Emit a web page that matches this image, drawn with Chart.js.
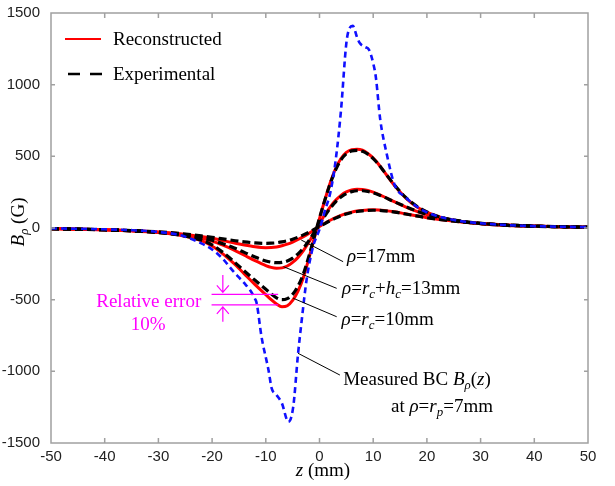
<!DOCTYPE html>
<html>
<head>
<meta charset="utf-8">
<script src="https://cdn.jsdelivr.net/npm/chart.js@4.4.1/dist/chart.umd.min.js"></script>
<style>
  body { margin: 0; background: #fff; }
  #wrap { width: 615px; height: 486px; }
</style>
</head>
<body>
<div id="wrap"><canvas id="c" width="615" height="486"></canvas></div>
<script>
// z positions (mm) shared by reconstructed / experimental curves
const zGrid = [-50, -45, -40, -35, -30, -26, -22, -20, -18, -16, -14, -12, -10, -9, -8, -7, -6, -5, -4, -3, -2, -1,
               0, 1, 2, 3, 4, 5, 6, 7, 8, 9, 10, 11, 12, 14, 16, 18, 20, 22, 26, 30, 35, 40, 45, 50];

// rho = rc = 10mm
const rec10 = [-5, -8, -13, -20, -32, -50, -88, -125, -180, -245, -320, -395, -465, -500, -530, -549, -542, -505, -440, -345, -215, -75,
               65, 195, 315, 415, 485, 528, 547, 550, 543, 520, 488, 445, 395, 295, 212, 150, 110, 80, 47, 30, 18, 12, 8, 5];
const exp10 = [-5, -8, -13, -20, -32, -50, -85, -118, -170, -232, -300, -365, -428, -460, -487, -500, -493, -463, -405, -320, -200, -65,
               70, 195, 310, 405, 475, 518, 538, 542, 535, 515, 484, 443, 395, 298, 215, 155, 112, 82, 48, 30, 18, 12, 8, 5];
// rho = rc + hc = 13mm
const rec13 = [-5, -8, -12, -19, -30, -45, -72, -92, -120, -152, -190, -228, -262, -275, -281, -278, -265, -240, -205, -158, -100, -35,
               30, 92, 148, 193, 228, 252, 265, 270, 268, 262, 250, 235, 218, 182, 148, 118, 93, 74, 48, 32, 20, 13, 9, 6];
const exp13 = [-5, -8, -12, -19, -30, -44, -68, -86, -110, -138, -170, -203, -230, -238, -242, -240, -230, -210, -180, -140, -90, -32,
               28, 85, 138, 182, 216, 240, 254, 260, 260, 255, 245, 232, 216, 182, 150, 120, 96, 76, 50, 33, 20, 13, 9, 6];
// rho = 17mm
const rec17 = [-5, -8, -12, -18, -28, -40, -60, -72, -88, -104, -119, -131, -137, -136, -132, -124, -113, -98, -80, -60, -38, -14,
               10, 33, 54, 72, 88, 101, 111, 118, 123, 126, 127, 126, 123, 113, 99, 85, 72, 61, 44, 32, 21, 14, 9, 6];
const exp17 = [-5, -8, -12, -18, -27, -38, -55, -65, -76, -87, -97, -104, -107, -106, -103, -97, -89, -78, -64, -48, -30, -10,
               10, 31, 51, 69, 85, 98, 108, 115, 120, 123, 124, 123, 120, 111, 98, 85, 72, 61, 44, 32, 21, 14, 9, 6];

// measured boundary condition at rho = rp = 7mm
const zMeas = [-50, -45, -40, -35, -30, -26, -22, -20, -18, -17, -16, -15, -14, -13, -12, -11.7, -10.8, -9.5, -8.9, -8, -7, -5.8,
               -4.9, -4, -3.3, -2.4, -1.2, 0, 1, 2, 3, 4, 5, 5.6, 6.2, 7, 7.5, 8.5, 9.2, 10, 10.5, 11.3, 12.5, 14, 16, 18, 20, 22, 26, 30, 35, 40, 45, 50];
const bMeas = [-3, -5, -9, -15, -28, -50, -107, -150, -215, -260, -305, -345, -385, -430, -495, -525, -758, -991, -1119, -1165, -1223, -1352,
               -1250, -880, -640, -360, -130, -10, 120, 245, 470, 820, 1290, 1395, 1410, 1330, 1290, 1262, 1245, 1150, 1050, 760, 520, 300, 215, 152, 110, 82, 50, 33, 20, 13, 9, 6];

const xTicks = [-50, 50, 10];      // min, max, step
const yTicks = [-1500, 1500, 500];

const pts = (xs, ys) => xs.map((x, i) => ({x: x, y: ys[i]}));
const SERIF = '"Liberation Serif", "Times New Roman", serif';
const SANS = '"Liberation Sans", Arial, sans-serif';

// draw text made of pieces: {t, i (italic), s (subscript)}
function rich(ctx, segs, x, y, size, align) {
    let w = 0;
    const parts = segs.map(s => {
        const fs = s.s ? size * 0.68 : size;
        const font = (s.i ? 'italic ' : '') + fs + 'px ' + SERIF;
        ctx.font = font;
        const mw = ctx.measureText(s.t).width;
        w += mw;
        return {s: s, font: font, mw: mw};
    });
    let cx = align === 'right' ? x - w : (align === 'center' ? x - w / 2 : x);
    ctx.textAlign = 'left';
    ctx.textBaseline = 'middle';
    parts.forEach(p => {
        ctx.font = p.font;
        ctx.fillText(p.s.t, cx, y + (p.s.s ? size * 0.3 : 0));
        cx += p.mw;
    });
}
const R = t => ({t: t}), I = t => ({t: t, i: true}), S = t => ({t: t, i: true, s: true});

// annotations in data coordinates
const leaders = [
    {from: [-3.4, -84], to: [4.4, -235], text: [I('ρ'), R('=17mm')], at: [5.1, -202]},
    {from: [-6.7, -270], to: [3.2, -421], text: [I('ρ'), R('='), I('r'), S('c'), R('+'), I('h'), S('c'), R('=13mm')], at: [4.2, -426]},
    {from: [-4.9, -490], to: [3.2, -619], text: [I('ρ'), R('='), I('r'), S('c'), R('=10mm')], at: [4.1, -642]},
    {from: [-4.0, -874], to: [3.8, -1026], text: [R('Measured BC '), I('B'), S('ρ'), R('('), I('z'), R(')')], at: [4.4, -1060]}
];

const overlay = {
    id: 'overlay',
    afterDatasetsDraw(chart) {
        const ctx = chart.ctx, xs = chart.scales.x, ys = chart.scales.y, a = chart.chartArea;
        const px = v => xs.getPixelForValue(v), py = v => ys.getPixelForValue(v);
        ctx.save();
        // frame and inward ticks
        ctx.strokeStyle = '#a0a0a0';
        ctx.lineWidth = 1.5;
        ctx.strokeRect(a.left, a.top, a.right - a.left, a.bottom - a.top);
        ctx.beginPath();
        for (let v = xTicks[0] + xTicks[2]; v < xTicks[1]; v += xTicks[2]) {
            ctx.moveTo(px(v), a.top); ctx.lineTo(px(v), a.top + 5);
            ctx.moveTo(px(v), a.bottom); ctx.lineTo(px(v), a.bottom - 5);
        }
        for (let v = yTicks[0] + yTicks[2]; v < yTicks[1]; v += yTicks[2]) {
            ctx.moveTo(a.left, py(v)); ctx.lineTo(a.left + 4, py(v));
            ctx.moveTo(a.right, py(v)); ctx.lineTo(a.right - 4, py(v));
        }
        ctx.stroke();

        // legend
        ctx.lineWidth = 2;
        ctx.strokeStyle = '#ff0000';
        ctx.beginPath(); ctx.moveTo(65, 39); ctx.lineTo(101, 39); ctx.stroke();
        ctx.strokeStyle = '#000';
        ctx.lineWidth = 2.5;
        ctx.setLineDash([12, 10]);
        ctx.beginPath(); ctx.moveTo(68, 74); ctx.lineTo(102, 74); ctx.stroke();
        ctx.setLineDash([]);
        ctx.fillStyle = '#000';
        rich(ctx, [R('Reconstructed')], 113, 40, 19, 'left');
        rich(ctx, [R('Experimental')], 113, 75, 19, 'left');

        // leader lines + labels
        ctx.lineWidth = 1;
        leaders.forEach(l => {
            ctx.beginPath();
            ctx.moveTo(px(l.from[0]), py(l.from[1]));
            ctx.lineTo(px(l.to[0]), py(l.to[1]));
            ctx.stroke();
            rich(ctx, l.text, px(l.at[0]), py(l.at[1]), 19, 'left');
        });
        rich(ctx, [R('at '), I('ρ'), R('='), I('r'), S('p'), R('=7mm')], px(32.3), py(-1246), 19, 'right');

        // relative error marker
        ctx.strokeStyle = '#ff00ff';
        ctx.fillStyle = '#ff00ff';
        ctx.lineWidth = 1.2;
        const ax = px(-18), hi = py(-463), lo = py(-537);
        ctx.beginPath();
        ctx.moveTo(px(-20.1), hi); ctx.lineTo(px(-7.7), hi);
        ctx.moveTo(px(-20.1), lo); ctx.lineTo(px(-7.7), lo);
        ctx.moveTo(ax, py(-328)); ctx.lineTo(ax, hi - 2);
        ctx.moveTo(ax - 6, hi - 9); ctx.lineTo(ax, hi - 2); ctx.lineTo(ax + 6, hi - 9);
        ctx.moveTo(ax, py(-654)); ctx.lineTo(ax, lo + 2);
        ctx.moveTo(ax - 6, lo + 9); ctx.lineTo(ax, lo + 2); ctx.lineTo(ax + 6, lo + 9);
        ctx.stroke();
        rich(ctx, [R('Relative error')], px(-31.8), py(-514), 19, 'center');
        rich(ctx, [R('10%')], px(-31.9), py(-677), 19, 'center');

        // axis titles
        ctx.fillStyle = '#000';
        rich(ctx, [I('z'), R(' (mm)')], 323, 471, 19, 'center');
        ctx.translate(19, 222);
        ctx.rotate(-Math.PI / 2);
        rich(ctx, [I('B'), S('ρ'), R(' (G)')], 0, 0, 19, 'center');
        ctx.restore();
    }
};

const line = (data, color, width, dash) => ({
    data: data, borderColor: color, borderWidth: width, borderDash: dash,
    pointRadius: 0, fill: false, cubicInterpolationMode: 'monotone'
});

new Chart(document.getElementById('c'), {
    type: 'line',
    data: {
        datasets: [
            line(pts(zMeas, bMeas), '#1010ff', 2.6, [6, 4]),
            line(pts(zGrid, exp10), '#000', 3.2, [8, 4]),
            line(pts(zGrid, exp13), '#000', 3.2, [8, 4]),
            line(pts(zGrid, exp17), '#000', 3.2, [8, 4]),
            line(pts(zGrid, rec10), '#ff0000', 3, []),
            line(pts(zGrid, rec13), '#ff0000', 3, []),
            line(pts(zGrid, rec17), '#ff0000', 3, [])
        ]
    },
    options: {
        responsive: false,
        animation: false,
        devicePixelRatio: 1,
        layout: {padding: {left: 0, top: 13, right: 27, bottom: 0}},
        plugins: {legend: {display: false}, tooltip: {enabled: false}},
        scales: {
            x: {
                type: 'linear', min: xTicks[0], max: xTicks[1],
                grid: {display: false}, border: {display: false},
                ticks: {stepSize: xTicks[2], padding: -3, color: '#222', maxRotation: 0,
                        font: {family: SANS, size: 15}, callback: v => String(v)},
                afterFit: s => { s.height = 43; }
            },
            y: {
                type: 'linear', min: yTicks[0], max: yTicks[1],
                grid: {display: false}, border: {display: false},
                ticks: {stepSize: yTicks[2], padding: 3, color: '#222',
                        font: {family: SANS, size: 15}, callback: v => String(v)},
                afterFit: s => { s.width = 51; }
            }
        }
    },
    plugins: [overlay]
});
</script>
</body>
</html>
